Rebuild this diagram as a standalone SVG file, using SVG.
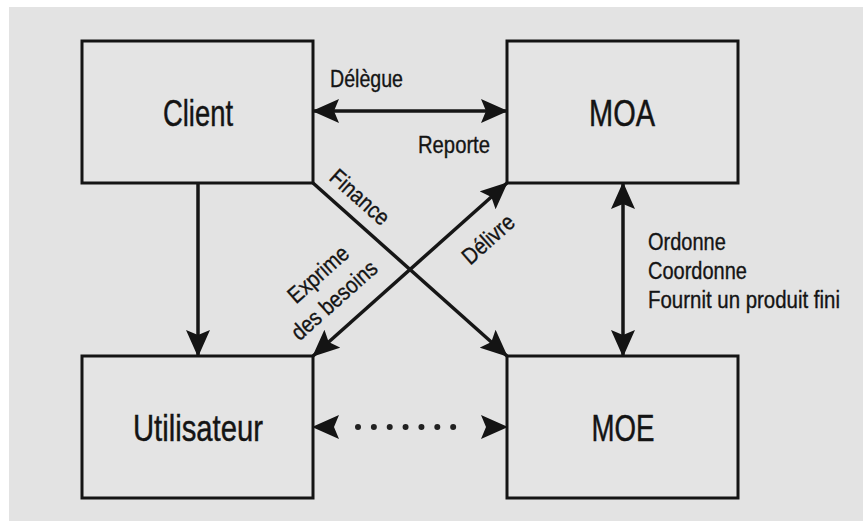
<svg xmlns="http://www.w3.org/2000/svg" width="863" height="521" viewBox="0 0 863 521">
  <defs>
    <style>
      .box { fill: #e4e4e4; stroke: #141414; stroke-width: 3; }
      .node-label { font-family: "Liberation Sans", Arial, sans-serif; font-size: 32px; fill: #141414; stroke: #141414; stroke-width: 0.4; text-anchor: middle; }
      .edge-label { font-family: "Liberation Sans", Arial, sans-serif; font-size: 20px; fill: #141414; stroke: #141414; stroke-width: 0.3; }
      .link { stroke: #161616; stroke-width: 3.5; fill: none; }
      .dots { stroke: #222; stroke-width: 6; stroke-linecap: round; stroke-dasharray: 0 15.86; fill: none; }
    </style>
    <marker id="head" viewBox="0 0 27 24" refX="26" refY="12" markerWidth="27" markerHeight="24" markerUnits="userSpaceOnUse" orient="auto-start-reverse">
      <path d="M0,0 L27,12 L0,24 L5,12 z" fill="#141414"/>
    </marker>
  </defs>

  <!-- page -->
  <rect x="0" y="0" width="863" height="521" fill="#ffffff"/>
  <rect x="9" y="7" width="854" height="514" fill="#e3e3e3"/>

  <!-- nodes -->
  <g id="client">
    <rect class="box" x="82" y="41" width="231" height="142"/>
    <text class="node-label" transform="translate(198,126) scale(1,1.17)" textLength="70" lengthAdjust="spacingAndGlyphs">Client</text>
  </g>
  <g id="moa">
    <rect class="box" x="507" y="41" width="231" height="142"/>
    <text class="node-label" transform="translate(622,126) scale(1,1.17)" textLength="66" lengthAdjust="spacingAndGlyphs">MOA</text>
  </g>
  <g id="utilisateur">
    <rect class="box" x="82" y="356" width="231" height="142"/>
    <text class="node-label" transform="translate(198,441) scale(1,1.17)" textLength="130" lengthAdjust="spacingAndGlyphs">Utilisateur</text>
  </g>
  <g id="moe">
    <rect class="box" x="507" y="356" width="231" height="142"/>
    <text class="node-label" transform="translate(623,441) scale(1,1.17)" textLength="63" lengthAdjust="spacingAndGlyphs">MOE</text>
  </g>

  <!-- connectors -->
  <g id="connectors">
    <!-- Client <-> MOA -->
    <line class="link" x1="313" y1="111" x2="507" y2="111" stroke-width="4" marker-start="url(#head)" marker-end="url(#head)"/>
    <!-- Client -> Utilisateur -->
    <line class="link" x1="198" y1="183" x2="198" y2="356" marker-end="url(#head)"/>
    <!-- MOA <-> MOE -->
    <line class="link" x1="623" y1="183" x2="623" y2="356" marker-start="url(#head)" marker-end="url(#head)"/>
    <!-- Client -> MOE (Finance) -->
    <line class="link" x1="313" y1="183" x2="507" y2="356" marker-end="url(#head)"/>
    <!-- Utilisateur <-> MOA -->
    <line class="link" x1="313" y1="356" x2="507" y2="183" marker-start="url(#head)" marker-end="url(#head)"/>
    <!-- Utilisateur <-> MOE (dotted) -->
    <line class="dots" x1="358" y1="427" x2="469" y2="427"/>
    <path d="M313,427 L507,427" stroke="none" fill="none" marker-start="url(#head)" marker-end="url(#head)"/>
  </g>

  <!-- connector labels -->
  <g id="labels">
    <text class="edge-label" transform="translate(330,87) scale(1,1.15)" textLength="73" lengthAdjust="spacingAndGlyphs">Délègue</text>
    <text class="edge-label" transform="translate(418,153) scale(1,1.15)" textLength="72" lengthAdjust="spacingAndGlyphs">Reporte</text>
    <text class="edge-label" text-anchor="middle" transform="translate(360,197) rotate(41.7) scale(1,1.15)" y="7">Finance</text>
    <text class="edge-label" text-anchor="middle" transform="translate(488,239) rotate(-41.7) scale(1,1.15)" y="7">Délivre</text>
    <text class="edge-label" text-anchor="middle" transform="translate(318,274) rotate(-41.7) scale(1,1.15)" y="7">Exprime</text>
    <text class="edge-label" text-anchor="middle" transform="translate(334,300) rotate(-41.7) scale(1,1.15)" y="7">des besoins</text>
    <text class="edge-label" transform="translate(648,250) scale(1,1.15)">Ordonne</text>
    <text class="edge-label" transform="translate(648,279) scale(1,1.15)">Coordonne</text>
    <text class="edge-label" transform="translate(648,308) scale(1,1.15)" textLength="192" lengthAdjust="spacingAndGlyphs">Fournit un produit fini</text>
  </g>
</svg>
